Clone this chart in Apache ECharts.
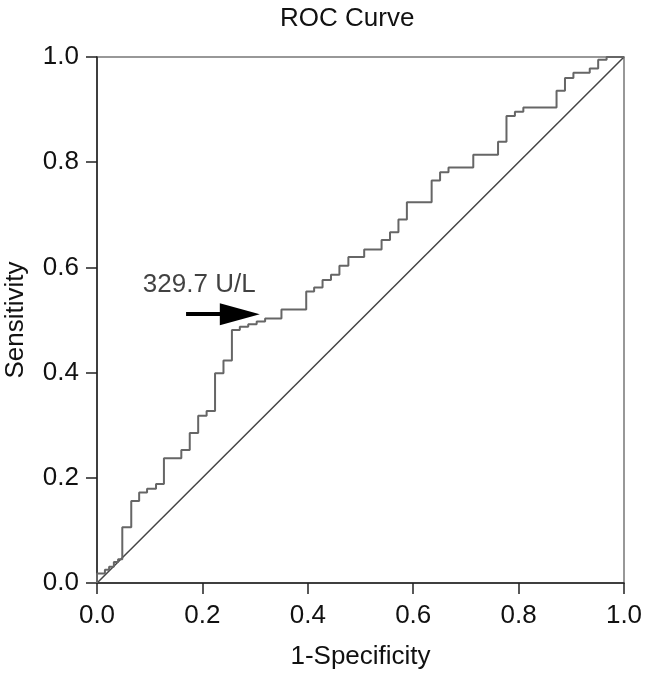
<!DOCTYPE html>
<html>
<head>
<meta charset="utf-8">
<script src="https://cdn.jsdelivr.net/npm/echarts@6/dist/echarts.min.js"></script>
<style>html,body{margin:0;padding:0;background:#fff;}#c{width:649px;height:673px;}</style>
</head>
<body>
<div id="c"></div>
<script>
// ROC curve vertices (step drawn horizontally then vertically)
var fpr = [0, 0, 0.015, 0.023, 0.032, 0.040, 0.048, 0.065, 0.080, 0.095, 0.112, 0.127, 0.160, 0.176, 0.192, 0.208, 0.224, 0.240, 0.256, 0.271, 0.287, 0.303, 0.319, 0.350, 0.397, 0.412, 0.428, 0.444, 0.460, 0.477, 0.507, 0.540, 0.556, 0.572, 0.588, 0.635, 0.651, 0.667, 0.714, 0.761, 0.777, 0.793, 0.809, 0.872, 0.888, 0.904, 0.935, 0.951, 0.967, 1.0];
var tpr = [0, 0.018, 0.025, 0.031, 0.040, 0.045, 0.106, 0.156, 0.172, 0.179, 0.188, 0.237, 0.253, 0.285, 0.318, 0.327, 0.399, 0.423, 0.481, 0.487, 0.492, 0.497, 0.503, 0.520, 0.554, 0.562, 0.576, 0.586, 0.603, 0.620, 0.634, 0.652, 0.667, 0.691, 0.724, 0.765, 0.781, 0.790, 0.814, 0.839, 0.888, 0.896, 0.904, 0.936, 0.960, 0.970, 0.978, 0.995, 1.0, 1.0];
var refX = [0, 1];
var refY = [0, 1];
var tickLabels = ['0.0', '0.2', '0.4', '0.6', '0.8', '1.0'];
var arrowFrom = [0.169, 0.511];
var arrowTo = [0.271, 0.511];
var cutoffText = '329.7 U/L';
var cutoffPos = [0.087, 0.567];

var chart = echarts.init(document.getElementById('c'));
var font = 'Liberation Sans, Arial, Helvetica, sans-serif';
function fmt(v) { return tickLabels[Math.round(v * 5)]; }
var curve = fpr.map(function (x, i) { return [x, tpr[i]]; });
var diag = refX.map(function (x, i) { return [x, refY[i]]; });

chart.setOption({
  animation: false,
  backgroundColor: '#fff',
  title: {
    text: 'ROC Curve', left: 275, top: 1,
    textStyle: { fontFamily: font, fontSize: 26, fontWeight: 'normal', color: '#111' }
  },
  grid: { left: 97, right: 25, top: 57, bottom: 90, containLabel: false, outerBoundsMode: 'none', show: true, borderColor: '#777', borderWidth: 1.5 },
  xAxis: {
    type: 'value', min: 0, max: 1, interval: 0.2,
    name: '1-Specificity', nameLocation: 'middle', nameGap: 61,
    nameTextStyle: { fontFamily: font, fontSize: 26, color: '#111' },
    axisLine: { show: true, lineStyle: { color: '#222', width: 1.5 } },
    axisTick: { show: true, length: 11, inside: false, lineStyle: { color: '#222', width: 1.5 } },
    axisLabel: { fontFamily: font, fontSize: 26, color: '#111', margin: 20, formatter: fmt },
    splitLine: { show: false }
  },
  yAxis: {
    type: 'value', min: 0, max: 1, interval: 0.2,
    name: 'Sensitivity', nameLocation: 'middle', nameGap: 68,
    nameTextStyle: { fontFamily: font, fontSize: 26, color: '#111' },
    axisLine: { show: true, lineStyle: { color: '#222', width: 1.5 } },
    axisTick: { show: true, length: 11, inside: false, lineStyle: { color: '#222', width: 1.5 } },
    axisLabel: { fontFamily: font, fontSize: 26, color: '#111', margin: 18, formatter: fmt },
    splitLine: { show: false }
  },
  series: [
    {
      type: 'line', data: diag, showSymbol: false, symbol: 'none',
      lineStyle: { color: '#444', width: 1.5 }, z: 2
    },
    {
      type: 'line', data: curve, step: 'end', showSymbol: false, symbol: 'none',
      lineStyle: { color: '#666', width: 2 }, z: 3,
      markLine: {
        silent: true, symbol: ['none', 'triangle'], symbolSize: [22, 40],
        label: { show: false },
        lineStyle: { color: '#000', width: 4, type: 'solid' },
        data: [[{ coord: arrowFrom }, { coord: arrowTo }]]
      }
    },
    {
      type: 'scatter', data: [cutoffPos], symbolSize: 0,
      label: {
        show: true, position: 'inside', align: 'left', verticalAlign: 'middle',
        formatter: cutoffText, fontFamily: font, fontSize: 26, color: '#111'
      }
    }
  ]
});
</script>
</body>
</html>
